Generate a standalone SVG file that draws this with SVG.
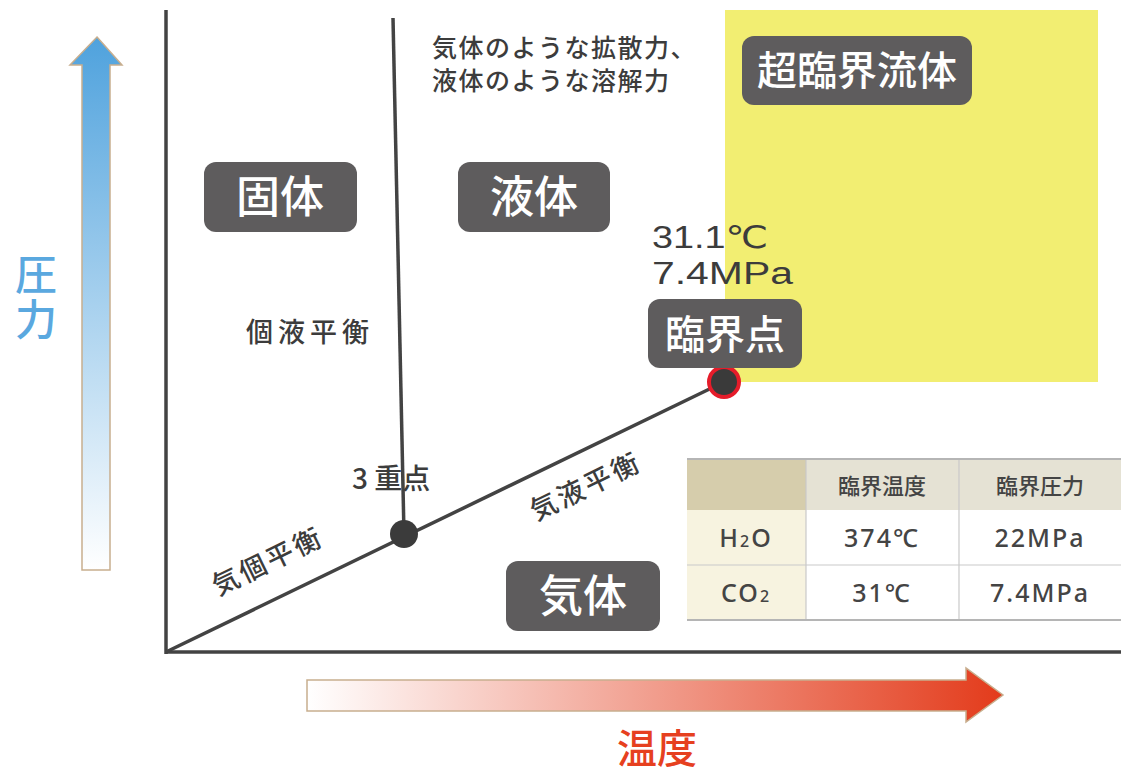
<svg xmlns="http://www.w3.org/2000/svg" width="1121" height="776" viewBox="0 0 1121 776">
<style>
.jp{font-family:"Noto Sans CJK JP","Noto Sans",sans-serif;font-weight:500;}
.lbl{font-family:"Noto Sans CJK JP",sans-serif;font-weight:500;fill:#ffffff;text-anchor:middle;}
.box{fill:#5e5c5d;}
.dk{fill:#3b3b3b;}
.axis{stroke:#434343;stroke-width:3.5;fill:none;}
.tt{font-family:"Noto Sans CJK JP",sans-serif;font-weight:500;font-size:22px;fill:#444444;text-anchor:middle;}
.num{font-family:"Noto Sans","Liberation Sans",sans-serif;font-weight:500;font-size:25px;fill:#444444;text-anchor:middle;letter-spacing:2px;}
.cp{font-family:"Liberation Sans","DejaVu Sans",sans-serif;font-size:31px;fill:#3c3c3c;}
.tline{stroke:#c9c9c9;stroke-width:1.2;}
</style>
<defs>
<linearGradient id="gBlue" x1="0" y1="1" x2="0" y2="0">
<stop offset="0" stop-color="#ffffff"/>
<stop offset="1" stop-color="#4fa2dd"/>
</linearGradient>
<linearGradient id="gRed" x1="0" y1="0" x2="1" y2="0">
<stop offset="0" stop-color="#ffffff"/>
<stop offset="1" stop-color="#e33b1b"/>
</linearGradient>
</defs>
<rect width="1121" height="776" fill="#ffffff"/>

<g id="supercritical-region">
<rect x="725" y="10" width="373" height="372" fill="#f2ee72"/>
</g>

<g id="pressure-arrow">
<polygon points="97,37 122,65 110,65 110,570 82,570 82,65 70,65" fill="url(#gBlue)" stroke="#c8ae8e" stroke-width="1.5"/>
<text class="jp" x="36" y="253" font-size="42" fill="#5aa8df" writing-mode="vertical-rl" letter-spacing="3">圧力</text>
</g>

<g id="temperature-arrow">
<polygon points="307,680 966,680 966,668 1003,695 966,722 966,711 307,711" fill="url(#gRed)" stroke="#c8ae8e" stroke-width="1.5"/>
<text class="jp" x="657" y="763" font-size="40" fill="#e6401f" text-anchor="middle">温度</text>
</g>

<g id="connectors">
<line class="axis" x1="166" y1="10" x2="166" y2="654"/>
<line class="axis" x1="165" y1="652" x2="1121" y2="652"/>
<line class="axis" x1="166" y1="652" x2="724" y2="382"/>
<line class="axis" x1="393" y1="18" x2="404" y2="534"/>
</g>

<g id="triple-point">
<circle cx="404" cy="534" r="14" class="dk"/>
<text class="jp" x="352" y="489" font-size="28" fill="#3c3c3c">3 重点</text>
</g>

<g id="critical-point">
<circle cx="724" cy="382" r="15" fill="#3a3a3a" stroke="#e51c2a" stroke-width="4"/>
<rect class="box" x="648" y="299" width="154" height="69" rx="12"/>
<text class="lbl" x="725" y="349" font-size="40">臨界点</text>
<text class="cp" x="652" y="248" textLength="116" lengthAdjust="spacingAndGlyphs">31.1℃</text>
<text class="cp" x="652" y="284" textLength="141" lengthAdjust="spacingAndGlyphs">7.4MPa</text>
</g>

<g id="solid">
<rect class="box" x="204" y="162" width="153" height="70" rx="12"/>
<text class="lbl" x="280" y="213" font-size="44">固体</text>
</g>

<g id="liquid">
<rect class="box" x="458" y="162" width="152" height="70" rx="12"/>
<text class="lbl" x="534" y="213" font-size="44">液体</text>
</g>

<g id="gas">
<rect class="box" x="506" y="561" width="154" height="70" rx="12"/>
<text class="lbl" x="583" y="612" font-size="44">気体</text>
</g>

<g id="supercritical-fluid">
<rect class="box" x="742" y="36" width="230" height="69" rx="12"/>
<text class="lbl" x="857" y="85" font-size="40">超臨界流体</text>
</g>

<g id="description">
<text class="jp" x="432" y="57" font-size="25" fill="#3c3c3c" letter-spacing="1.5">気体のような拡散力、</text>
<text class="jp" x="432" y="90" font-size="25" fill="#3c3c3c" letter-spacing="1.5">液体のような溶解力</text>
</g>

<g id="curve-labels">
<text class="jp" x="246" y="342" font-size="27" fill="#3c3c3c" letter-spacing="5">個液平衡</text>
<text class="jp" x="0" y="0" font-size="27" fill="#3c3c3c" text-anchor="middle" letter-spacing="3" transform="translate(590,495) rotate(-26)">気液平衡</text>
<text class="jp" x="0" y="0" font-size="27" fill="#3c3c3c" text-anchor="middle" letter-spacing="3" transform="translate(272,570) rotate(-26)">気個平衡</text>
</g>

<g id="critical-table">
<rect x="687" y="459" width="119" height="51" fill="#d6cdac"/>
<rect x="806" y="459" width="315" height="51" fill="#e5e2d4"/>
<rect x="687" y="510" width="119" height="110" fill="#f7f3e0"/>
<rect x="806" y="510" width="315" height="110" fill="#ffffff"/>
<line class="tline" x1="806" y1="459" x2="806" y2="620"/>
<line class="tline" x1="959" y1="459" x2="959" y2="620"/>
<line class="tline" x1="687" y1="565" x2="1121" y2="565"/>
<line x1="687" y1="459" x2="1121" y2="459" stroke="#b5b5b5" stroke-width="2"/>
<line x1="687" y1="620" x2="1121" y2="620" stroke="#b5b5b5" stroke-width="2"/>
<text class="tt" x="882" y="494">臨界温度</text>
<text class="tt" x="1040" y="494">臨界圧力</text>
<text class="num" x="746" y="547">H<tspan font-size="16">2</tspan>O</text>
<text class="num" x="882" y="547">374℃</text>
<text class="num" x="1040" y="547">22MPa</text>
<text class="num" x="746" y="602">CO<tspan font-size="16">2</tspan></text>
<text class="num" x="882" y="602">31℃</text>
<text class="num" x="1040" y="602">7.4MPa</text>
</g>
</svg>
